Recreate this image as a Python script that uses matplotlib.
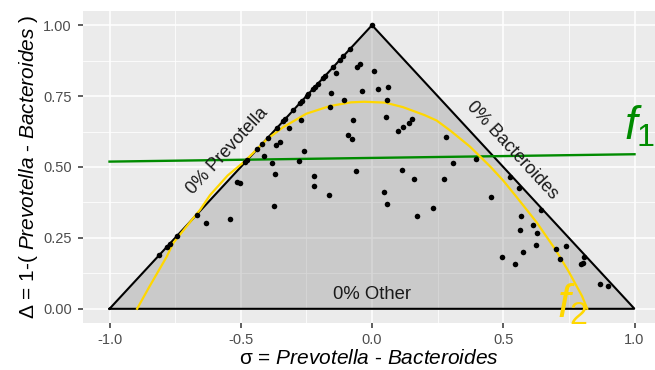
import numpy as np
from matplotlib import pyplot as plt

plt.rcParams['font.family'] = ['Liberation Sans', 'DejaVu Sans']
plt.rcParams['mathtext.fontset'] = 'custom'
plt.rcParams['mathtext.rm'] = 'Liberation Sans'
plt.rcParams['mathtext.it'] = 'Liberation Sans:italic'

# samples, sigma = Prevotella - Bacteroides, delta = 1 - (Prevotella + Bacteroides)
sigma = [-0.810, -0.781, -0.770, -0.744, -0.668, -0.484, -0.476, -0.438, -0.420,
         -0.396, -0.363, -0.339, -0.331, -0.300, -0.274, -0.268, -0.248, -0.243,
         -0.225, -0.217, -0.206, -0.187, -0.179, -0.149, -0.122, -0.110, -0.084, 0.0,
         -0.046, -0.057, 0.009, -0.137, -0.158, -0.037, 0.024, 0.062, -0.106, 0.056,
         -0.160, -0.071, -0.272, -0.316, 0.053, 0.100, 0.119, 0.142, 0.154, -0.093,
         -0.077, -0.350, -0.367, 0.283, -0.259, -0.410, -0.380, -0.278, 0.307, 0.397,
         -0.062, 0.113, -0.370, -0.220, 0.159, 0.274, 0.526, -0.222, -0.515, -0.503,
         0.046, 0.560, -0.162, 0.453, 0.058, -0.373, 0.234, 0.644, 0.173, 0.568,
         -0.541, -0.633, 0.614, 0.564, 0.630, 0.626, 0.739, 0.701, 0.576, 0.494,
         0.808, 0.717, 0.803, 0.795, 0.546, 0.869, 0.898]
delta = [0.190, 0.219, 0.230, 0.256, 0.332, 0.516, 0.524, 0.562, 0.580,
         0.604, 0.637, 0.661, 0.669, 0.700, 0.726, 0.732, 0.752, 0.757,
         0.775, 0.783, 0.794, 0.813, 0.821, 0.851, 0.878, 0.890, 0.916, 1.0,
         0.863, 0.852, 0.839, 0.832, 0.762, 0.769, 0.774, 0.781, 0.736, 0.736,
         0.710, 0.667, 0.667, 0.637, 0.678, 0.628, 0.640, 0.654, 0.668, 0.613,
         0.598, 0.587, 0.576, 0.607, 0.557, 0.539, 0.515, 0.520, 0.515, 0.527,
         0.486, 0.488, 0.475, 0.470, 0.457, 0.459, 0.466, 0.434, 0.448, 0.443,
         0.413, 0.425, 0.403, 0.393, 0.368, 0.362, 0.357, 0.349, 0.329, 0.326,
         0.317, 0.302, 0.296, 0.278, 0.269, 0.225, 0.222, 0.210, 0.202, 0.181,
         0.184, 0.175, 0.163, 0.158, 0.158, 0.088, 0.079]

# simplex boundary
tri_x = [-1, 0, 1, -1]
tri_y = [0, 1, 0, 0]

# f1 line
f1_x = [-1.0, 1.0]
f1_y = [0.519, 0.545]

# f2 curve
f2_x = [-0.895, -0.85, -0.782, -0.758, -0.70, -0.655, -0.617, -0.55, -0.484, -0.40,
        -0.339, -0.25, -0.16, -0.08, -0.03, 0.05, 0.118, 0.20, 0.246, 0.30, 0.373,
        0.45, 0.50, 0.55, 0.627, 0.70, 0.75, 0.80, 0.82]
f2_y = [0.0, 0.075, 0.184, 0.231, 0.298, 0.349, 0.401, 0.470, 0.521, 0.598,
        0.640, 0.688, 0.715, 0.728, 0.730, 0.727, 0.711, 0.683, 0.664, 0.627, 0.572,
        0.502, 0.452, 0.395, 0.305, 0.207, 0.130, 0.045, 0.0]

fig = plt.figure(figsize=(6.55, 3.7), dpi=100)
ax = fig.add_axes([83 / 655, 47 / 370, 572 / 655, 312 / 370])
ax.set_facecolor('#EBEBEB')
for s in ax.spines.values():
    s.set_visible(False)

ax.set_xlim(-1.101, 1.078)
ax.set_ylim(-0.05, 1.05)
ax.set_xticks([-1, -0.5, 0, 0.5, 1])
ax.set_xticklabels(['-1.0', '-0.5', '0.0', '0.5', '1.0'])
ax.set_yticks([0, 0.25, 0.5, 0.75, 1.0])
ax.set_yticklabels(['0.00', '0.25', '0.50', '0.75', '1.00'])
ax.set_xticks([-0.75, -0.25, 0.25, 0.75], minor=True)
ax.set_yticks([0.125, 0.375, 0.625, 0.875], minor=True)
ax.grid(True, which='major', color='white', lw=1.15)
ax.grid(True, which='minor', color='white', lw=0.55)
ax.set_axisbelow(True)
ax.tick_params(which='major', length=3.8, width=1.1, color='#333333',
               labelcolor='#4D4D4D', labelsize=10.5)
ax.tick_params(axis='x', pad=3.5)
ax.tick_params(axis='y', pad=4.2)
ax.tick_params(which='minor', length=0)

ax.fill(tri_x, tri_y, color='#7F7F7F', alpha=0.3, lw=0, zorder=1)
ax.plot(tri_x, tri_y, color='black', lw=1.5, zorder=2, solid_joinstyle='miter')

ax.plot(f1_x, f1_y, color='#008B00', lw=1.7, zorder=3)
ax.plot(f2_x, f2_y, color='#FFD700', lw=1.6, zorder=3)
ax.scatter(sigma, delta, s=16, color='black', lw=0, zorder=4)

ax.text(-0.552, 0.555, '0% Prevotella', rotation=47.3, ha='center', va='center',
        fontsize=13, color='#1a1a1a')
ax.text(0.532, 0.56, '0% Bacteroides', rotation=-47.3, ha='center', va='center',
        fontsize=13, color='#1a1a1a')
ax.text(0.0, 0.052, '0% Other', ha='center', va='center', fontsize=13.3,
        color='#1a1a1a')
ax.text(0.96, 0.56, r'$f_1$', color='#008B00', fontsize=33, ha='left', va='bottom')
ax.text(0.705, -0.065, r'$f_2$', color='#FFD700', fontsize=33, ha='left', va='bottom')

ax.set_xlabel(r'σ = $\mathit{Prevotella}$ - $\mathit{Bacteroides}$', fontsize=15,
              labelpad=1)
ax.set_ylabel(r'Δ = 1-( $\mathit{Prevotella}$ - $\mathit{Bacteroides}$ )', fontsize=15,
              labelpad=2)

fig.savefig('out.png', dpi=100)
